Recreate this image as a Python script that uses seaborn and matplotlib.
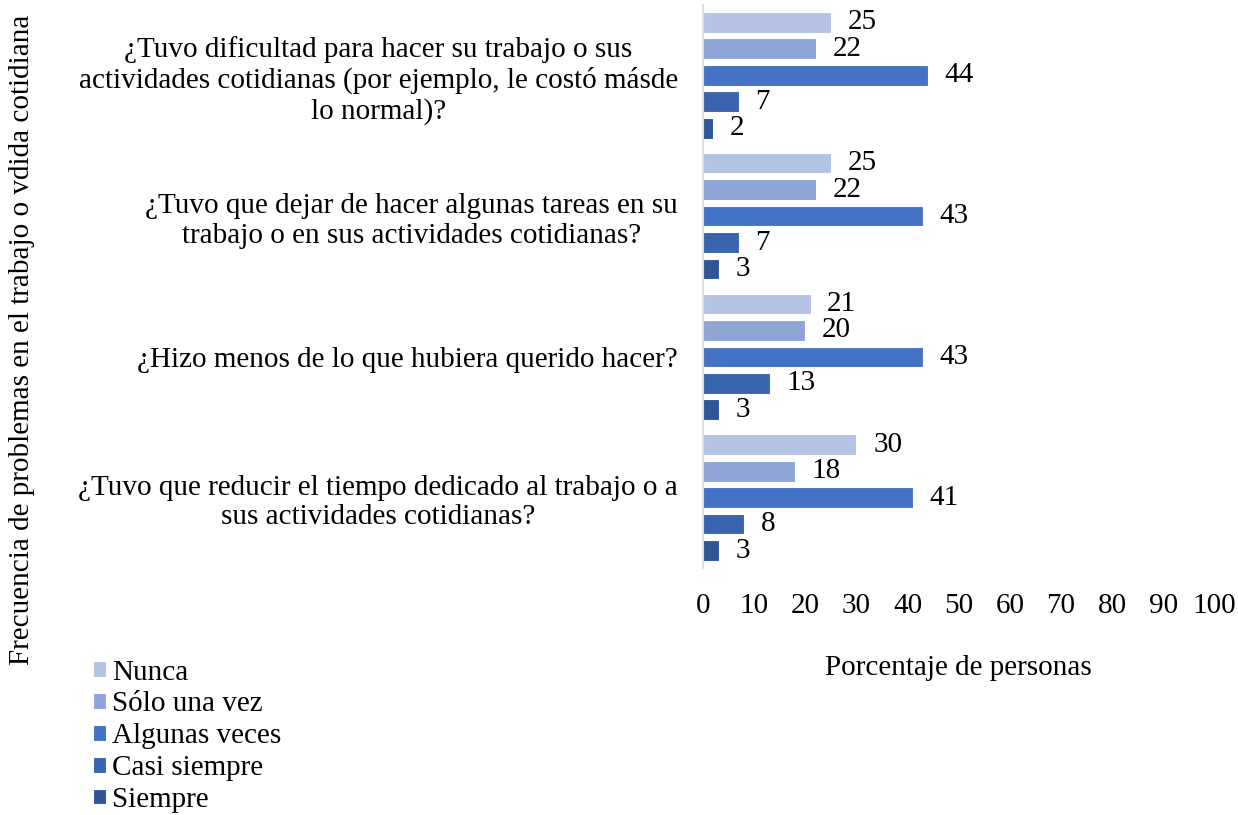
import pandas as pd
import matplotlib
matplotlib.use('Agg')
import matplotlib.pyplot as plt
import seaborn as sns

questions = [
    '¿Tuvo dificultad para hacer su trabajo o sus\nactividades cotidianas (por ejemplo, le costó másde\nlo normal)?',
    '¿Tuvo que dejar de hacer algunas tareas en su\ntrabajo o en sus actividades cotidianas?',
    '¿Hizo menos de lo que hubiera querido hacer?',
    '¿Tuvo que reducir el tiempo dedicado al trabajo o a\nsus actividades cotidianas?',
]
answers = ['Nunca', 'Sólo una vez', 'Algunas veces', 'Casi siempre', 'Siempre']
nunca = [25, 25, 21, 30]
solo_una_vez = [22, 22, 20, 18]
algunas_veces = [44, 43, 43, 41]
casi_siempre = [7, 7, 13, 8]
siempre = [2, 3, 3, 3]
x_ticks = [0, 10, 20, 30, 40, 50, 60, 70, 80, 90, 100]

colors = ['#B4C2E4', '#8FA5D6', '#4472C4', '#3A64AE', '#2F5597']

series = [nunca, solo_una_vez, algunas_veces, casi_siempre, siempre]
rows = []
for answer, values in zip(answers, series):
    for q, v in zip(questions, values):
        rows.append({'pregunta': q, 'respuesta': answer, 'porcentaje': v})
df = pd.DataFrame(rows)

sns.set_theme(style='white')
plt.rcParams['font.family'] = ['Liberation Serif', 'DejaVu Serif']
fs = 21

fig = plt.figure(figsize=(12.38, 8.15), dpi=100)
ax = fig.add_axes([0.568, 0.303, 0.4128, 0.691])

sns.barplot(data=df, y='pregunta', x='porcentaje', hue='respuesta',
            order=questions, hue_order=answers, palette=colors,
            saturation=1, orient='h', width=0.94, gap=0.22,
            edgecolor='white', linewidth=0.8, ax=ax, legend=True)

for container in ax.containers:
    ax.bar_label(container, padding=12, fontsize=fs, color='black')

ax.set_xlim(0, 100)
ax.set_xticks(x_ticks)
ax.tick_params(axis='x', length=0, pad=18, labelsize=fs, colors='black')
ax.tick_params(axis='y', length=0, pad=18, labelsize=fs, colors='black')
for lab in ax.get_yticklabels():
    lab.set_multialignment('center')
    lab.set_linespacing(1.18)

ax.set_ylabel('')
ax.set_xlabel('Porcentaje de personas', fontsize=fs, labelpad=26, color='black')

sns.despine(ax=ax, left=False, bottom=True)
ax.spines['left'].set_color('#D9D9D9')
ax.spines['left'].set_linewidth(1.2)

handles, labels = ax.get_legend_handles_labels()
ax.get_legend().remove()
fig.legend(handles, labels, loc='upper left', bbox_to_anchor=(0.066, 0.205),
           frameon=False, fontsize=fs, labelcolor='black',
           handlelength=0.45, handleheight=0.45,
           handletextpad=0.2, labelspacing=0.2, borderaxespad=0)

fig.text(22 / 1238, 1 - 340 / 815,
         'Frecuencia de problemas en el trabajo o vdida cotidiana',
         rotation=90, ha='center', va='center', fontsize=fs, color='black')

fig.savefig('out.png', dpi=100)
